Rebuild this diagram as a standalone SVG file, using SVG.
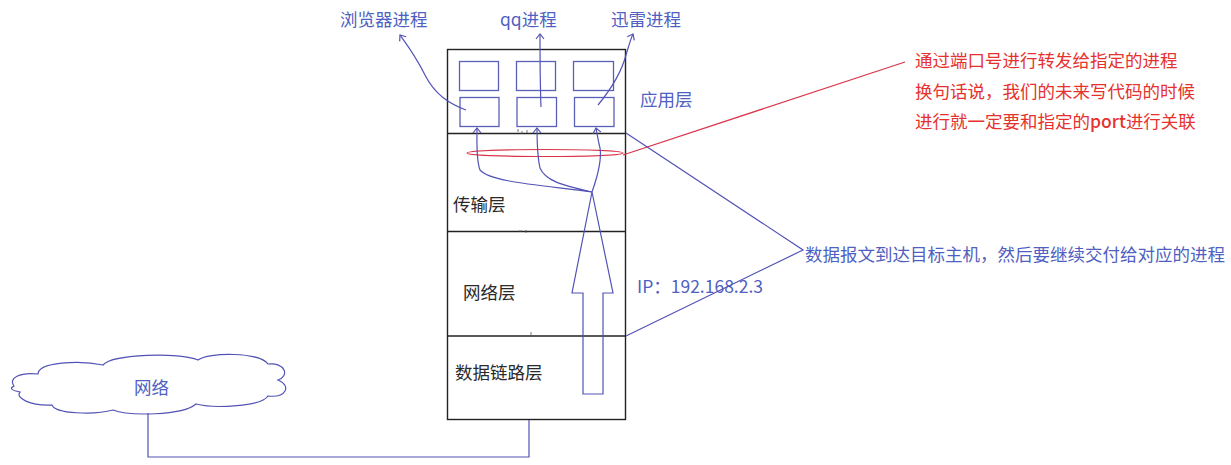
<svg xmlns="http://www.w3.org/2000/svg" width="1231" height="465" viewBox="0 0 1231 465">
<style>
text{font-family:"Microsoft YaHei","Noto Sans CJK SC","Noto Sans",sans-serif;font-size:17.5px}
.bt{fill:#4f5fc2}
.rt{fill:#e5322e}
.kt{fill:#2a2a2a}
.box{fill:none;stroke:#222;stroke-width:1.4}
.pb{fill:none;stroke:#5a5fb8;stroke-width:1.3}
.bl{fill:none;stroke:#5253b5;stroke-width:1.2}
.rl{fill:none;stroke:#d9364a;stroke-width:1.2}
</style>
<defs>
<marker id="v" viewBox="-6 -6 12 12" markerWidth="12" markerHeight="12" markerUnits="userSpaceOnUse" orient="auto" refX="0" refY="0">
<path d="M-5,-4 L0,0 L-5,4" fill="none" stroke="#5253b5" stroke-width="1.2"/>
</marker>
</defs>
<rect width="1231" height="465" fill="#fff"/>

<g id="stack">
<rect class="box" x="447.5" y="49.5" width="178" height="370"/>
<line class="box" x1="447.5" y1="133.5" x2="625.5" y2="133.5"/>
<line class="box" x1="447.5" y1="231.5" x2="625.5" y2="231.5"/>
<line class="box" x1="447.5" y1="336" x2="625.5" y2="336"/>
<path d="M518,129 v3 M522,131 v3 M527,130 v3 M519,231 h3 M526,230 v3 M531,332 v4 h3" stroke="#555" stroke-width="0.8" fill="none"/>
</g>

<g id="app-layer">
<rect class="pb" x="459.5" y="61.5" width="39" height="29"/>
<rect class="pb" x="516.5" y="61.5" width="39" height="29"/>
<rect class="pb" x="573.5" y="61.5" width="40" height="29"/>
<rect class="pb" x="460" y="97.5" width="39" height="29"/>
<rect class="pb" x="517" y="97.5" width="39.5" height="29"/>
<rect class="pb" x="574.5" y="97.5" width="39.5" height="29"/>
<text class="bt" x="640" y="106">应用层</text>
</g>

<g id="layer-labels">
<text class="kt" x="453" y="211">传输层</text>
<text class="kt" x="463" y="299">网络层</text>
<text class="kt" x="455" y="379">数据链路层</text>
</g>

<g id="process-labels">
<text class="bt" x="340" y="26">浏览器进程</text>
<text class="bt" x="500" y="26">qq进程</text>
<text class="bt" x="611" y="26">迅雷进程</text>
</g>

<g id="port-ellipse">
<ellipse cx="545" cy="153" rx="78" ry="3.5" fill="none" stroke="#d9364a" stroke-width="1.2"/>
</g>

<g id="big-arrow">
<path class="bl" d="M583,394 L603,394 L603,293 L613,293 L592,192 L572,293 L583,293 Z"/>
</g>

<g id="cloud">
<path class="bl" d="M14,386 C8,378 20,372 38,374 C38,362 80,360 103,365 C112,354 180,352 198,360 C208,352 260,352 268,364 C285,362 290,376 278,380 C292,386 286,398 268,396 C262,406 215,409 196,404 C182,416 128,416 113,410 C95,415 55,414 52,405 C30,406 15,398 20,392 C10,390 10,388 14,386 Z"/>
<text class="bt" x="134" y="394">网络</text>
</g>

<g id="annotations">
<text class="rt" x="915" y="67">通过端口号进行转发给指定的进程</text>
<text class="rt" x="915" y="98">换句话说，我们的未来写代码的时候</text>
<text class="rt" x="915" y="128">进行就一定要和指定的<tspan font-weight="500">port</tspan>进行关联</text>
<text class="bt" x="805" y="261">数据报文到达目标主机，然后要继续交付给对应的进程</text>
<text class="bt" x="637" y="293">IP：192.168.2.3</text>
</g>

<g id="connectors">
<path class="bl" marker-end="url(#v)" d="M592,192 C540,185 490,182 480,170 C476,160 477,140 477,128"/>
<path class="bl" marker-end="url(#v)" d="M592,192 C560,185 545,180 540,168 C537,155 537,140 537,128"/>
<path class="bl" marker-end="url(#v)" d="M592,192 C598,175 602,160 600,148 C598,140 597,133 596,128"/>
<path class="bl" marker-end="url(#v)" d="M466,110 C450,104 435,95 425,75 C415,55 405,42 400,35"/>
<path class="bl" marker-end="url(#v)" d="M541,107 C540,80 540,55 540,34"/>
<path class="bl" marker-end="url(#v)" d="M598,105 C612,88 622,70 626,55 C629,45 631,38 633,34"/>
<line class="rl" x1="623" y1="155" x2="905" y2="62"/>
<polyline class="bl" points="626,133 803,250 626,336"/>
<polyline class="bl" points="148,413 148,457 529,457 529,420"/>
</g>
</svg>
